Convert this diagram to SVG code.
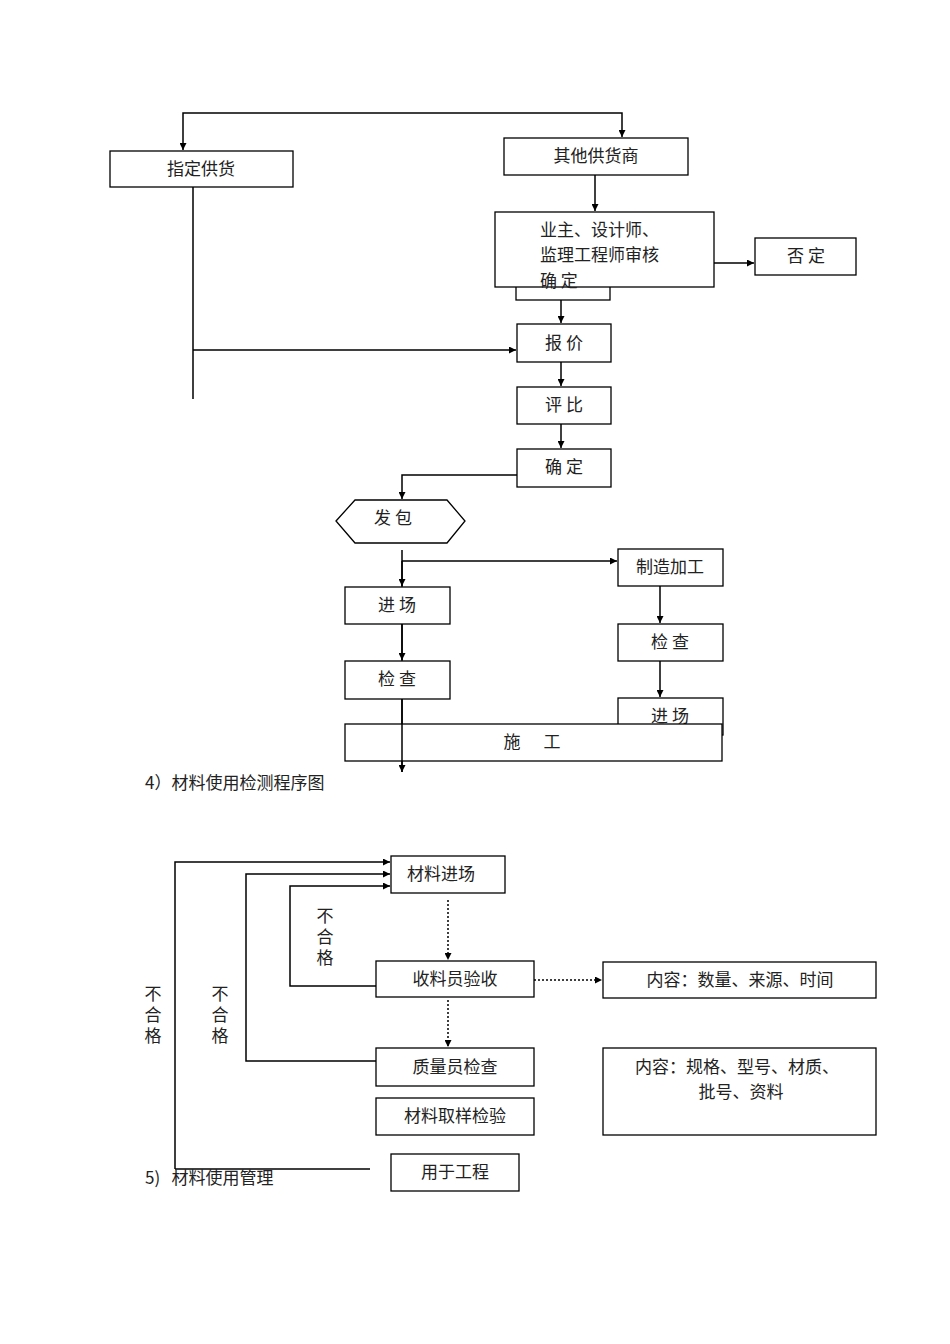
<svg xmlns="http://www.w3.org/2000/svg" width="950" height="1344" viewBox="0 0 950 1344">
<style>
.b{fill:#fff;stroke:#000;stroke-width:1.3}
.l{fill:none;stroke:#000;stroke-width:1.5}
.d{fill:none;stroke:#000;stroke-width:1.5;stroke-dasharray:2,2}
text{font-family:"Noto Sans CJK SC","Liberation Serif",serif;font-size:17px;fill:#222}
.c{text-anchor:middle}
</style>
<defs><marker id="a" viewBox="0 0 10 10" refX="10" refY="5" markerWidth="7" markerHeight="7" markerUnits="userSpaceOnUse" orient="auto"><path d="M0,0L10,5L0,10z"/></marker></defs>
<rect width="950" height="1344" fill="#fff"/>
<g id="connectors">
<path class="l" d="M400,113H183V150" marker-end="url(#a)"/>
<path class="l" d="M400,113H622V137" marker-end="url(#a)"/>
<path class="l" d="M595,175V211" marker-end="url(#a)"/>
<path class="l" d="M714,263H754" marker-end="url(#a)"/>
<path class="l" d="M561,300V323" marker-end="url(#a)"/>
<path class="l" d="M193,187V399M193,350H516" marker-end="url(#a)"/>
<path class="l" d="M561,362V386" marker-end="url(#a)"/>
<path class="l" d="M561,424V448" marker-end="url(#a)"/>
<path class="l" d="M517,475H402V499" marker-end="url(#a)"/>
<path class="l" d="M402,550V772" marker-end="url(#a)"/>
<path class="l" d="M402,561H617" marker-end="url(#a)"/>
<path class="l" d="M402,561V586" marker-end="url(#a)"/>
<path class="l" d="M402,624V660" marker-end="url(#a)"/>
<path class="l" d="M660,586V623" marker-end="url(#a)"/>
<path class="l" d="M660,661V697" marker-end="url(#a)"/>
<path class="l" d="M175,1169V862H390" marker-end="url(#a)"/>
<path class="l" d="M175,1169H370"/>
<path class="l" d="M376,1061H246V874H390" marker-end="url(#a)"/>
<path class="l" d="M376,986H290V886H390" marker-end="url(#a)"/>
<path class="d" d="M448,900V960" marker-end="url(#a)"/>
<path class="d" d="M534,980H602" marker-end="url(#a)"/>
<path class="d" d="M448,1000V1047" marker-end="url(#a)"/>
</g>
<g id="n1"><rect class="b" x="110" y="151" width="183" height="36"/><text class="c" x="201" y="175">指定供货</text></g>
<g id="n2"><rect class="b" x="504" y="138" width="184" height="37"/><text class="c" x="596" y="162">其他供货商</text></g>
<g id="n3"><rect class="b" x="516" y="280" width="94" height="20"/><rect class="b" x="495" y="212" width="219" height="75"/><text x="540" y="236">业主、设计师、</text><text x="540" y="261">监理工程师审核</text><text x="540" y="287">确 定</text></g>
<g id="n4"><rect class="b" x="755" y="238" width="101" height="37"/><text class="c" x="806" y="262">否 定</text></g>
<g id="n5"><rect class="b" x="517" y="324" width="94" height="38"/><text class="c" x="564" y="349">报 价</text></g>
<g id="n6"><rect class="b" x="517" y="387" width="94" height="37"/><text class="c" x="564" y="411">评 比</text></g>
<g id="n7"><rect class="b" x="517" y="449" width="94" height="38"/><text class="c" x="564" y="473">确 定</text></g>
<g id="n8"><polygon class="b" points="336,521 355,500 447,500 465,521 447,543 355,543"/><text class="c" x="393" y="524">发 包</text></g>
<g id="n9"><rect class="b" x="345" y="587" width="105" height="37"/><text class="c" x="397" y="611">进 场</text></g>
<g id="n10"><rect class="b" x="345" y="661" width="105" height="38"/><text class="c" x="397" y="685">检 查</text></g>
<g id="n11"><rect class="b" x="618" y="549" width="105" height="37"/><text class="c" x="670" y="573">制造加工</text></g>
<g id="n12"><rect class="b" x="618" y="624" width="105" height="37"/><text class="c" x="670" y="648">检 查</text></g>
<g id="n13"><rect class="b" x="618" y="698" width="105" height="37"/><text class="c" x="670" y="722">进 场</text></g>
<g id="n14"><rect class="b" x="345" y="724" width="377" height="37"/><text class="c" x="532" y="748" xml:space="preserve">施      工</text></g>
<path class="l" d="M402,699V772"/>
<text x="145" y="789" font-size="19">4）材料使用检测程序图</text>
<g id="m1"><rect class="b" x="391" y="856" width="114" height="37"/><text class="c" x="441" y="880">材料进场</text></g>
<g id="m2"><rect class="b" x="376" y="961" width="158" height="36"/><text class="c" x="455" y="985">收料员验收</text></g>
<g id="m3"><rect class="b" x="603" y="962" width="273" height="36"/><text class="c" x="740" y="986">内容：数量、来源、时间</text></g>
<g id="m4"><rect class="b" x="376" y="1048" width="158" height="38"/><text class="c" x="455" y="1073">质量员检查</text></g>
<g id="m5"><rect class="b" x="603" y="1048" width="273" height="87"/><text class="c" x="737" y="1073">内容：规格、型号、材质、</text><text class="c" x="741" y="1098">批号、资料</text></g>
<g id="m6"><rect class="b" x="376" y="1098" width="158" height="37"/><text class="c" x="455" y="1122">材料取样检验</text></g>
<g id="m7"><rect class="b" x="391" y="1154" width="128" height="37"/><text class="c" x="455" y="1178">用于工程</text></g>
<g font-size="16"><text class="c" x="325" y="922">不</text><text class="c" x="325" y="943">合</text><text class="c" x="325" y="964">格</text>
<text class="c" x="220" y="1000">不</text><text class="c" x="220" y="1021">合</text><text class="c" x="220" y="1042">格</text>
<text class="c" x="153" y="1000">不</text><text class="c" x="153" y="1021">合</text><text class="c" x="153" y="1042">格</text></g>
<text x="145" y="1184" font-size="19" xml:space="preserve">5)   材料使用管理</text>
</svg>
